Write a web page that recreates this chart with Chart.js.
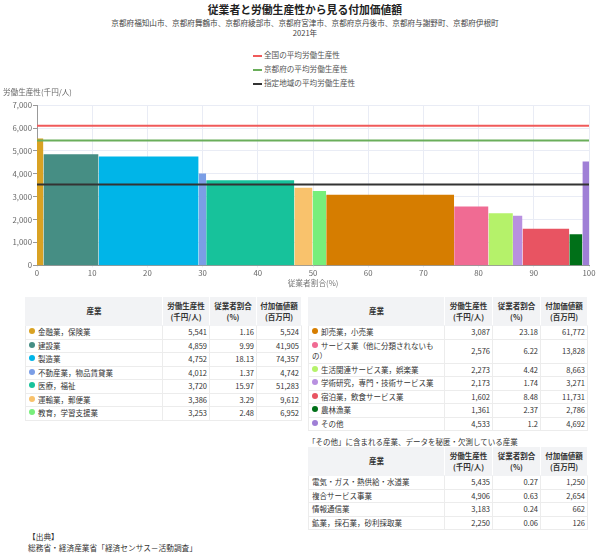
<!DOCTYPE html>
<html lang="ja">
<head>
<meta charset="utf-8">
<script src="https://cdn.jsdelivr.net/npm/chart.js@4.4.1/dist/chart.umd.min.js"></script>
<style>
body{margin:0;width:600px;height:557px;background:#fff;font-family:"Noto Sans CJK JP","Noto Sans",sans-serif;color:#333;position:relative;overflow:hidden}
#titulo{position:absolute;top:1.5px;left:10px;width:590px;text-align:center;font-size:10.8px;font-weight:bold;line-height:14px;color:#222}
#subtitulo{position:absolute;top:17.5px;left:10px;width:590px;text-align:center;font-size:7.6px;line-height:10.5px;color:#444}
#legenda{position:absolute;top:48px;left:253px;font-size:7.6px;line-height:14px;color:#555}
#legenda .marca{display:inline-block;width:9px;height:2px;margin-right:2px;vertical-align:middle}
#area{position:absolute;left:0;top:86px;width:600px;height:204px}
table{position:absolute;border-collapse:collapse;font-size:7.5px;line-height:10.5px;color:#333;table-layout:fixed}
th{background:#f2f3f5;font-weight:bold;padding:3px 2px;text-align:center;border:1px solid #f2f3f5;border-right:1px solid #fff}
td{padding:1px 2px;text-align:right;border:1px solid #ececec}
td.nome{text-align:left;padding-left:3px}
.ponto{display:inline-block;width:6px;height:6px;border-radius:50%;margin-right:3px;vertical-align:1px}
#tabela1{left:25px;top:297px;width:276px}
#tabela2{left:308px;top:297px;width:279px}
#tabela3{left:308px;top:447px;width:279px}
#legenda3{position:absolute;left:308px;top:436px;font-size:7.5px;line-height:11px;color:#333}
#fonte{position:absolute;left:28px;top:532px;font-size:7.7px;line-height:10.5px;color:#333}
</style>
</head>
<body>
<div id="titulo">従業者と労働生産性から見る付加価値額</div>
<div id="subtitulo">京都府福知山市、京都府舞鶴市、京都府綾部市、京都府宮津市、京都府京丹後市、京都府与謝野町、京都府伊根町<br>2021年</div>
<div id="legenda"></div>
<div id="area"><canvas id="grafico"></canvas></div>
<table id="tabela1"></table>
<table id="tabela2"></table>
<div id="legenda3">「その他」に含まれる産業、データを秘匿・欠測している産業</div>
<table id="tabela3"></table>
<div id="fonte">【出典】<br>総務省・経済産業省「経済センサス－活動調査」</div>
<script>
// dados do grafico
var setores = ["金融業，保険業", "建設業", "製造業", "不動産業，物品賃貸業", "医療，福祉", "運輸業，郵便業", "教育，学習支援業",
    "卸売業，小売業", "サービス業（他に分類されないもの）", "生活関連サービス業，娯楽業", "学術研究，専門・技術サービス業",
    "宿泊業，飲食サービス業", "農林漁業", "その他"];
var produtividade = [5541, 4859, 4752, 4012, 3720, 3386, 3253, 3087, 2576, 2273, 2173, 1602, 1361, 4533];
var participacao = [1.16, 9.99, 18.13, 1.37, 15.97, 3.29, 2.48, 23.18, 6.22, 4.42, 1.74, 8.48, 2.37, 1.2];
var valorAgregado = [5524, 41905, 74357, 4742, 51283, 9612, 6952, 61772, 13828, 8663, 3271, 11731, 2786, 4692];
var cores = ["#d9a223", "#468e84", "#00b5e8", "#7b9ee6", "#17c29b", "#f9c26c", "#78ee7b",
    "#d67d00", "#f06b93", "#b5f26a", "#b890e0", "#e85462", "#007018", "#9f7fd6"];

// linhas de referencia
var linhasNomes = ["全国の平均労働生産性", "京都府の平均労働生産性", "指定地域の平均労働生産性"];
var linhasValores = [6100, 5450, 3530];
var linhasCores = ["#f05a5a", "#6aae5a", "#333333"];

// tabela "その他"
var outrosSetores = ["電気・ガス・熱供給・水道業", "複合サービス事業", "情報通信業", "鉱業，採石業，砂利採取業"];
var outrosProdutividade = [5435, 4906, 3183, 2250];
var outrosParticipacao = [0.27, 0.63, 0.24, 0.06];
var outrosValor = [1250, 2654, 662, 126];

var cabecalhos = ["産業", "労働生産性<br>(千円/人)", "従業者割合<br>(%)", "付加価値額<br>(百万円)"];

Chart.defaults.font.family = '"Noto Sans CJK JP", "Noto Sans", sans-serif';
Chart.defaults.color = "#666";

var conjuntos = [];
for (var i = 0; i < linhasNomes.length; i++) {
    conjuntos.push({
        label: linhasNomes[i],
        data: [{x: 0, y: linhasValores[i]}, {x: 100, y: linhasValores[i]}],
        borderColor: linhasCores[i],
        backgroundColor: linhasCores[i],
        borderWidth: 2,
        showLine: true,
        fill: false
    });
}
var inicio = 0;
for (var i = 0; i < setores.length; i++) {
    var fim = inicio + participacao[i];
    conjuntos.push({
        label: setores[i],
        data: [{x: inicio, y: produtividade[i]}, {x: fim, y: produtividade[i]}],
        borderColor: cores[i],
        backgroundColor: cores[i],
        borderWidth: 0,
        showLine: true,
        fill: "origin"
    });
    inicio = fim;
}

var contexto = document.getElementById("grafico").getContext("2d");
var grafico = new Chart(contexto, {
    type: "scatter",
    data: {datasets: conjuntos},
    options: {
        responsive: true,
        maintainAspectRatio: false,
        animation: false,
        elements: {point: {radius: 0, hoverRadius: 0}},
        layout: {padding: {left: 3, right: 11, bottom: 0, top: 0}},
        plugins: {
            legend: {display: false},
            tooltip: {enabled: false},
            title: {
                display: true,
                text: "労働生産性(千円/人)",
                align: "start",
                color: "#666",
                font: {size: 7.6, weight: "normal"},
                padding: {top: 2, bottom: 8}
            }
        },
        scales: {
            x: {
                type: "linear",
                min: 0,
                max: 100,
                ticks: {stepSize: 10, font: {size: 7.8}, padding: 1},
                grid: {color: "#e9ecf5", tickLength: 2},
                border: {color: "#999"},
                title: {display: true, text: "従業者割合(%)", color: "#777", font: {size: 7.7}, padding: {top: 0, bottom: 2}}
            },
            y: {
                min: 0,
                max: 7000,
                ticks: {
                    stepSize: 1000,
                    font: {size: 7.8},
                    padding: 1,
                    callback: function (valor) { return valor.toLocaleString("en-US"); }
                },
                grid: {color: "#e9ecf5", tickColor: "#999", tickLength: 4},
                border: {color: "#999"},
                afterFit: function (escala) { escala.width = 34; }
            }
        }
    }
});

function montarLegenda(grafico) {
    var itens = grafico.options.plugins.legend.labels.generateLabels(grafico);
    var caixa = document.getElementById("legenda");
    itens.forEach(function (item) {
        if (item.datasetIndex >= linhasNomes.length) return;
        var linha = document.createElement("div");
        var marca = document.createElement("span");
        marca.className = "marca";
        marca.style.background = item.strokeStyle;
        linha.appendChild(marca);
        linha.appendChild(document.createTextNode(item.text));
        caixa.appendChild(linha);
    });
}
montarLegenda(grafico);

function formatar(n) { return n.toLocaleString("en-US"); }

function montarTabela(id, nomes, prod, part, valor, corLista, larguras) {
    var tabela = document.getElementById(id);
    var html = "<colgroup>";
    for (var c = 0; c < larguras.length; c++) html += '<col style="width:' + larguras[c] + 'px">';
    html += "</colgroup><tr>";
    for (var c = 0; c < cabecalhos.length; c++) html += "<th>" + cabecalhos[c] + "</th>";
    html += "</tr>";
    for (var r = 0; r < nomes.length; r++) {
        var ponto = corLista ? '<span class="ponto" style="background:' + corLista[r] + '"></span>' : "";
        html += '<tr><td class="nome">' + ponto + nomes[r] + "</td><td>" + formatar(prod[r]) +
            "</td><td>" + part[r] + "</td><td>" + formatar(valor[r]) + "</td></tr>";
    }
    tabela.innerHTML = html;
}

montarTabela("tabela1", setores.slice(0, 7), produtividade.slice(0, 7), participacao.slice(0, 7),
    valorAgregado.slice(0, 7), cores.slice(0, 7), [137, 47, 47, 45]);
montarTabela("tabela2", setores.slice(7), produtividade.slice(7), participacao.slice(7),
    valorAgregado.slice(7), cores.slice(7), [136, 48, 48, 47]);
montarTabela("tabela3", outrosSetores, outrosProdutividade, outrosParticipacao, outrosValor,
    null, [136, 48, 48, 47]);
</script>
</body>
</html>
